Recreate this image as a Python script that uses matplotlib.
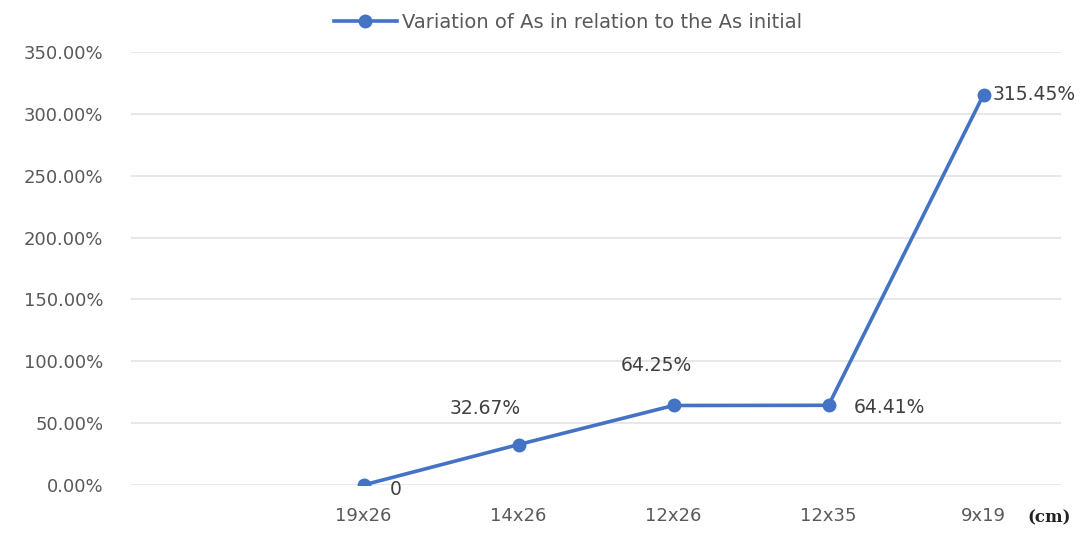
import matplotlib
matplotlib.use("Agg")
import matplotlib.pyplot as plt

# data
categories = ["", "19x26", "14x26", "12x26", "12x35", "9x19"]
values = [None, 0.0, 32.67, 64.25, 64.41, 315.45]
point_labels = [None, "0", "32.67%", "64.25%", "64.41%", "315.45%"]
yticks = [0, 50, 100, 150, 200, 250, 300, 350]

# label offsets in pixels (dx, dy, ha)
label_pos = [None, (26, -5, "left"), (-33, 36, "center"), (-17, 40, "center"),
             (25, -2, "left"), (9, 0, "left")]

blue = "#4472C4"
grey_txt = "#595959"

fig = plt.figure(figsize=(10.89, 5.34), dpi=100)
ax = fig.add_axes([0.1203, 0.0918, 0.854, 0.8108])

xs = [i for i, v in enumerate(values) if v is not None]
ys = [v for v in values if v is not None]
ax.plot(xs, ys, color=blue, lw=2.6, marker="o", markersize=9,
        label="Variation of As in relation to the As initial")

for i, v in enumerate(values):
    if v is None:
        continue
    dx, dy, ha = label_pos[i]
    ax.annotate(point_labels[i], (i, v), xytext=(dx, dy), textcoords="offset pixels",
                ha=ha, va="center", fontsize=13.5, color="#404040")

ax.set_xlim(-0.5, len(categories) - 0.5)
ax.set_ylim(0, 350)
ax.set_xticks(range(len(categories)))
ax.set_xticklabels(categories)
ax.set_yticks(yticks)
ax.set_yticklabels([f"{t:.2f}%" for t in yticks])
ax.tick_params(length=0, labelsize=13, colors=grey_txt)
ax.tick_params(axis="x", pad=16)
ax.tick_params(axis="y", pad=20)
ax.grid(axis="y", color="#e0e0e0", lw=1.1)
ax.set_axisbelow(True)
for s in ax.spines.values():
    s.set_visible(False)

fig.text(0.943, 0.015, "(cm)", fontsize=12, fontweight="bold", family="DejaVu Serif",
         ha="left", va="bottom", color="#222222")

fig.legend(loc="upper center", bbox_to_anchor=(0.522, 1.008), frameon=False,
           fontsize=14, labelcolor=grey_txt, handlelength=3.2, handletextpad=0.3)

fig.savefig("out.png", dpi=100)
